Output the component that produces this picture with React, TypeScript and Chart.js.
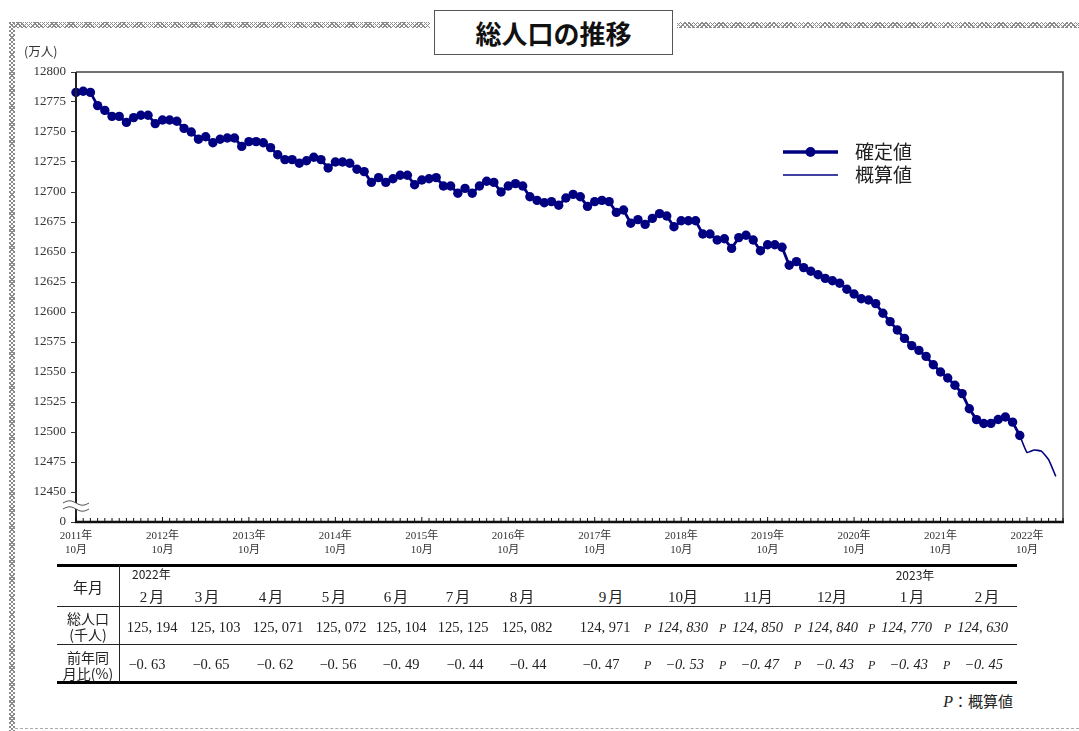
import React, { useEffect, useRef } from 'react';
import { Chart, registerables } from 'chart.js';

Chart.register(...registerables);

// ---- data ----
const START_YEAR = 2011;
const START_MONTH = 10;

// 確定値 (万人), monthly from 2011年10月 to 2022年9月
const confirmedPopulation = [
  12783, 12784, 12783, 12772, 12768, 12763, 12763, 12758, 12762, 12764, 12764, 12757,
  12760, 12760, 12759, 12753, 12750, 12744, 12746, 12741, 12744, 12745, 12745, 12738,
  12742, 12742, 12741, 12737, 12731, 12727, 12727, 12724, 12726, 12729, 12727, 12720,
  12725, 12725, 12724, 12719, 12717, 12708, 12712, 12708, 12711, 12714, 12714, 12706,
  12710, 12711, 12712, 12705, 12705, 12699, 12703, 12699, 12705, 12709, 12708, 12700,
  12705, 12707, 12705, 12696, 12693, 12691, 12692, 12689, 12695, 12698, 12696, 12688,
  12692, 12693, 12692, 12683, 12685, 12674, 12677, 12673, 12678, 12682, 12680, 12671,
  12676, 12676, 12676, 12665, 12665, 12660, 12661, 12653, 12662, 12664, 12660, 12651,
  12656, 12656, 12654, 12639, 12642, 12637, 12634, 12631, 12628, 12626, 12624, 12619,
  12615, 12611, 12610, 12607, 12599, 12592, 12585, 12578, 12572, 12568, 12563, 12556,
  12550, 12545, 12539, 12532, 12519.4, 12510.3, 12507.1, 12507.2, 12510.4, 12512.5, 12508.2, 12497.1,
];

// 概算値 (万人), 2022年10月 to 2023年2月
const provisionalPopulation = [12483.0, 12485.0, 12484.0, 12477.0, 12463.0];

const yTickValues = [
  12425, 12450, 12475, 12500, 12525, 12550, 12575, 12600, 12625, 12650, 12675, 12700, 12725, 12750, 12775, 12800,
];
const xTickMonths = [0, 12, 24, 36, 48, 60, 72, 84, 96, 108, 120, 132];

const tableMonths = ['2月', '3月', '4月', '5月', '6月', '7月', '8月', '9月', '10月', '11月', '12月', '1月', '2月'];
const tablePopulation = [125194, 125103, 125071, 125072, 125104, 125125, 125082, 124971, 124830, 124850, 124840, 124770, 124630];
const tableYoY = [-0.63, -0.65, -0.62, -0.56, -0.49, -0.44, -0.44, -0.47, -0.53, -0.47, -0.43, -0.43, -0.45];
const tableProvisional = [false, false, false, false, false, false, false, false, true, true, true, true, true];

// ---- layout constants ----
const headerX = [153, 208, 272, 335, 397, 459, 523, 612, 683, 758, 832, 913, 988];
const valueX = [152, 215, 278, 341, 401, 463, 527, 605, 676, 751, 826, 900, 976];
const yoyX = [147, 211, 275, 338, 401, 465, 528, 601, 674, 749, 824, 898, 973];

const NAVY = '#000080';
const SERIF = "'Liberation Serif', 'Noto Sans CJK JP', serif";
const SANS = "'Noto Sans CJK JP', 'Noto Sans', sans-serif";

const framePlugin = {
  id: 'frame',
  afterDraw(chart: any) {
    const { ctx, chartArea, scales } = chart;
    const { left, right, top, bottom } = chartArea;
    const x = scales.x;
    const y = scales.y;
    ctx.save();
    // top & right border
    ctx.strokeStyle = '#444';
    ctx.lineWidth = 1.5;
    ctx.beginPath();
    ctx.moveTo(left, top);
    ctx.lineTo(right, top);
    ctx.lineTo(right, bottom);
    ctx.stroke();
    // left axis
    ctx.strokeStyle = '#222';
    ctx.lineWidth = 2;
    ctx.beginPath();
    ctx.moveTo(left, top);
    ctx.lineTo(left, bottom);
    ctx.stroke();
    // monthly ticks (inward)
    ctx.strokeStyle = '#111';
    ctx.lineWidth = 1;
    for (let i = 0; i <= 137; i++) {
      const px = x.getPixelForValue(i);
      ctx.beginPath();
      ctx.moveTo(px, bottom);
      ctx.lineTo(px, bottom - (i % 12 === 0 ? 5 : 4));
      ctx.stroke();
    }
    // bottom axis
    ctx.lineWidth = 2.5;
    ctx.beginPath();
    ctx.moveTo(left - 1, bottom);
    ctx.lineTo(right + 1, bottom);
    ctx.stroke();
    // axis break
    const yb = (y.getPixelForValue(12450) + y.getPixelForValue(12425)) / 2 - 1;
    ctx.fillStyle = '#fff';
    ctx.fillRect(left - 6, yb - 3, 12, 6);
    ctx.strokeStyle = '#555';
    ctx.lineWidth = 1;
    for (const off of [-3, 3]) {
      ctx.beginPath();
      for (let t = 0; t <= 26; t++) {
        const xx = left - 13 + t;
        const yy = yb + off - 2.2 * Math.sin((t / 26) * 2 * Math.PI);
        if (t === 0) ctx.moveTo(xx, yy);
        else ctx.lineTo(xx, yy);
      }
      ctx.stroke();
    }
    // legend
    const lx1 = right - 280;
    const lx2 = right - 225;
    const ly1 = top + 80;
    const ly2 = top + 103;
    ctx.strokeStyle = NAVY;
    ctx.lineWidth = 3.5;
    ctx.beginPath();
    ctx.moveTo(lx1, ly1);
    ctx.lineTo(lx2, ly1);
    ctx.stroke();
    ctx.fillStyle = NAVY;
    ctx.beginPath();
    ctx.arc((lx1 + lx2) / 2, ly1, 5, 0, Math.PI * 2);
    ctx.fill();
    ctx.lineWidth = 1.3;
    ctx.beginPath();
    ctx.moveTo(lx1, ly2);
    ctx.lineTo(lx2, ly2);
    ctx.stroke();
    ctx.fillStyle = '#222';
    ctx.font = `19px ${SANS}`;
    ctx.textAlign = 'left';
    ctx.textBaseline = 'middle';
    ctx.fillText('確定値', right - 208, ly1);
    ctx.fillText('概算値', right - 208, ly2);
    ctx.restore();
  },
};

function fmtPop(v: number) {
  return `${Math.floor(v / 1000)}, ${String(v % 1000).padStart(3, '0')}`;
}
function fmtYoY(v: number) {
  const s = Math.abs(v).toFixed(2).replace('.', '. ');
  return (v < 0 ? '−' : '') + s;
}

const Txt = ({ x, y, children, style }: any) => (
  <div
    style={{
      position: 'absolute',
      left: x,
      top: y,
      transform: 'translate(-50%, -50%)',
      whiteSpace: 'nowrap',
      lineHeight: 1,
      color: '#222',
      ...style,
    }}
  >
    {children}
  </div>
);

const chain: React.CSSProperties = {
  position: 'absolute',
  backgroundImage:
    'repeating-linear-gradient(45deg, #8c8c8c 0 1px, transparent 1px 3px), repeating-linear-gradient(-45deg, #8c8c8c 0 1px, transparent 1px 3px)',
};

export default function App() {
  const canvasRef = useRef<HTMLCanvasElement | null>(null);

  useEffect(() => {
    if (!canvasRef.current) return;
    const lastIdx = confirmedPopulation.length - 1;
    const confirmedData = confirmedPopulation.map((v, i) => ({ x: i, y: v }));
    const provisionalData = [
      { x: lastIdx, y: confirmedPopulation[lastIdx] },
      ...provisionalPopulation.map((v, k) => ({ x: lastIdx + 1 + k, y: v })),
    ];
    const chart = new Chart(canvasRef.current, {
      type: 'line',
      data: {
        datasets: [
          {
            label: '概算値',
            data: provisionalData,
            borderColor: NAVY,
            borderWidth: 1.6,
            pointRadius: 0,
            tension: 0.15,
            clip: false,
          } as any,
          {
            label: '確定値',
            data: confirmedData,
            borderColor: NAVY,
            backgroundColor: NAVY,
            pointBackgroundColor: NAVY,
            pointBorderColor: NAVY,
            borderWidth: 2.8,
            pointRadius: 4.7,
            pointBorderWidth: 0,
            tension: 0,
            clip: false,
          } as any,
        ],
      },
      options: {
        animation: false,
        responsive: false,
        maintainAspectRatio: false,
        layout: { padding: { top: 32, right: 16, left: 0, bottom: 0 } },
        plugins: { legend: { display: false }, tooltip: { enabled: false } },
        scales: {
          x: {
            type: 'linear',
            min: 0,
            max: 137,
            afterBuildTicks: (s: any) => {
              s.ticks = xTickMonths.map((value) => ({ value }));
            },
            afterFit: (s: any) => {
              s.height = 48;
            },
            grid: { display: false, drawOnChartArea: false, drawTicks: false },
            border: { display: false },
            ticks: {
              autoSkip: false,
              maxRotation: 0,
              padding: 8,
              color: '#333',
              font: { family: SERIF, size: 11, lineHeight: 1.2 },
              callback: (value: any) => {
                const m = START_MONTH - 1 + Number(value);
                const yr = START_YEAR + Math.floor(m / 12);
                const mo = (m % 12) + 1;
                return [`${yr}年`, `${mo}月`];
              },
            },
          },
          y: {
            type: 'linear',
            min: 12425,
            max: 12800,
            afterBuildTicks: (s: any) => {
              s.ticks = yTickValues.map((value) => ({ value }));
            },
            afterFit: (s: any) => {
              s.width = 76;
            },
            grid: { drawOnChartArea: false, drawTicks: true, tickLength: 5, color: '#333' },
            border: { display: false },
            ticks: {
              padding: 5,
              color: '#333',
              font: { family: SERIF, size: 13 },
              callback: (value: any) => (Number(value) === 12425 ? '0' : String(value)),
            },
          },
        },
      } as any,
      plugins: [framePlugin],
    });
    return () => chart.destroy();
  }, []);

  return (
    <div
      style={{
        position: 'fixed',
        left: 0,
        top: 0,
        width: 1079,
        height: 731,
        background: '#fff',
        overflow: 'hidden',
        fontFamily: SANS,
      }}
    >
      <canvas
        ref={canvasRef}
        width={1079}
        height={530}
        style={{ position: 'absolute', left: 0, top: 40, width: 1079, height: 530 }}
      />
      {/* decorative frame */}
      <div style={{ ...chain, left: 9, top: 22, width: 421, height: 6 }} />
      <div style={{ ...chain, left: 677, top: 22, width: 402, height: 6 }} />
      <div style={{ ...chain, left: 9, top: 22, width: 6, height: 709 }} />
      <div style={{ position: 'absolute', left: 15, top: 728, width: 1064, borderTop: '1px dashed #aaa' }} />
      {/* title */}
      <div
        style={{
          position: 'absolute',
          left: 434,
          top: 10,
          width: 239,
          height: 45,
          boxSizing: 'border-box',
          border: '1.5px solid #555',
          background: '#fff',
          display: 'flex',
          alignItems: 'center',
          justifyContent: 'center',
          fontWeight: 'bold',
          fontSize: 26,
          color: '#111',
          fontFamily: SANS,
        }}
      >
        総人口の推移
      </div>
      <div style={{ position: 'absolute', left: 24, top: 45, fontSize: 12.5, color: '#333', lineHeight: 1, fontFamily: SANS }}>
        (万人)
      </div>

      {/* table lines */}
      <div style={{ position: 'absolute', left: 57, top: 563.5, width: 960, height: 3, background: '#000' }} />
      <div style={{ position: 'absolute', left: 57, top: 605.5, width: 960, height: 1.5, background: '#222' }} />
      <div style={{ position: 'absolute', left: 57, top: 643.5, width: 960, height: 1.5, background: '#222' }} />
      <div style={{ position: 'absolute', left: 57, top: 680.5, width: 960, height: 3, background: '#000' }} />
      <div style={{ position: 'absolute', left: 118.5, top: 565, width: 1.5, height: 117, background: '#222' }} />

      {/* row labels */}
      <Txt x={88} y={586} style={{ fontSize: 15, fontFamily: SANS }}>年月</Txt>
      <Txt x={88} y={618} style={{ fontSize: 14, fontFamily: SANS }}>総人口</Txt>
      <Txt x={88} y={634} style={{ fontSize: 14, fontFamily: SANS }}>(千人)</Txt>
      <Txt x={88} y={657} style={{ fontSize: 14, fontFamily: SANS }}>前年同</Txt>
      <Txt x={88} y={673} style={{ fontSize: 14, fontFamily: SANS }}>月比(%)</Txt>

      <div style={{ position: 'absolute', left: 132, top: 568, fontSize: 12, lineHeight: 1, color: '#222', fontFamily: SANS }}>2022年</div>
      <Txt x={915} y={575} style={{ fontSize: 12, fontFamily: SANS }}>2023年</Txt>

      {tableMonths.map((m, i) => (
        <Txt key={'m' + i} x={headerX[i]} y={597} style={{ fontSize: 15, fontFamily: SERIF, letterSpacing: m.length === 2 ? 2 : 0 }}>
          {m}
        </Txt>
      ))}
      {tablePopulation.map((v, i) => (
        <Txt key={'p' + i} x={valueX[i]} y={626.5} style={{ fontSize: 14.5, fontFamily: SERIF }}>
          {tableProvisional[i] ? (
            <span style={{ fontStyle: 'italic' }}>
              <span style={{ fontSize: 12, marginRight: 6 }}>P</span>
              {fmtPop(v)}
            </span>
          ) : (
            fmtPop(v)
          )}
        </Txt>
      ))}
      {tableYoY.map((v, i) => (
        <Txt key={'y' + i} x={yoyX[i]} y={664} style={{ fontSize: 14.5, fontFamily: SERIF }}>
          {tableProvisional[i] ? (
            <span style={{ fontStyle: 'italic' }}>
              <span style={{ fontSize: 12, marginRight: 14 }}>P</span>
              {fmtYoY(v)}
            </span>
          ) : (
            fmtYoY(v)
          )}
        </Txt>
      ))}

      <div
        style={{
          position: 'absolute',
          left: 900,
          width: 113,
          top: 693,
          textAlign: 'right',
          fontSize: 15,
          lineHeight: 1,
          color: '#222',
          fontFamily: SANS,
        }}
      >
        <span style={{ fontStyle: 'italic', fontFamily: SERIF, fontSize: 16 }}>P</span>：概算値
      </div>
    </div>
  );
}
